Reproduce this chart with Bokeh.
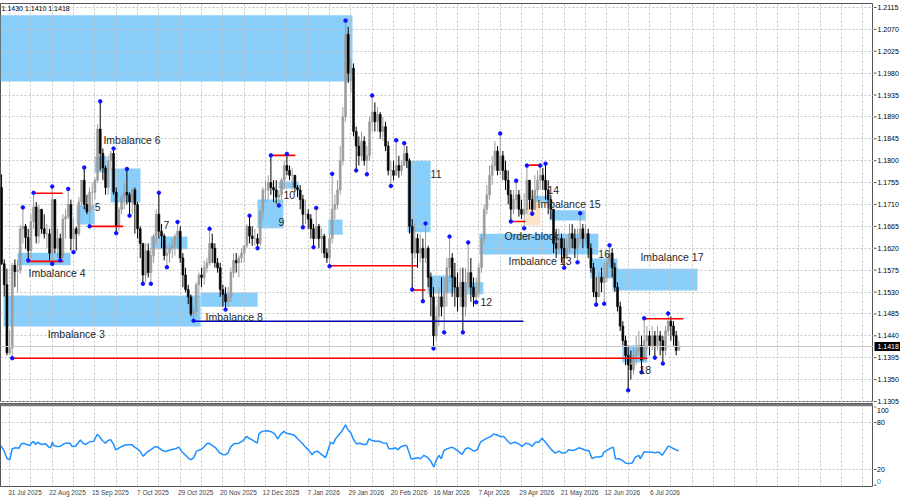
import numpy as np
import pandas as pd
from bokeh.plotting import figure
from bokeh.layouts import column, row
from bokeh.models import Range1d, FixedTicker, ColumnDataSource, Span
from bokeh.embed import file_html
from bokeh.resources import INLINE
from bokeh.core.properties import value

# ---------------- data (prices x 1e4), bars from 28 Jul 2025 ----------------
FIRST_BAR = -3          # bar index of first candle (31 Jul 2025 = bar 0)
FIRST_OPEN = 11745
highs = [
11772,11597,11578,11450,11590,11597,11596,11668,11704,11670,
11660,11690,11734,11715,11710,11700,11690,11670,11660,11747,
11720,11660,11650,11690,11700,11742,11720,11680,11665,11725,
11760,11786,11730,11745,11755,11765,11875,11922,11825,11790,
11810,11820,11825,11745,11705,11730,11755,11783,11735,11745,
11745,11715,11665,11630,11630,11630,11620,11650,11700,11734,
11670,11650,11625,11630,11640,11650,11674,11665,11610,11580,
11545,11525,11500,11550,11570,11580,11595,11600,11660,11650,
11630,11600,11590,11545,11540,11540,11580,11610,11610,11605,
11620,11625,11670,11687,11665,11660,11650,11700,11745,11760,
11770,11811,11760,11760,11740,11765,11800,11814,11790,11785,
11770,11750,11750,11730,11720,11700,11690,11670,11703,11670,
11660,11650,11620,11650,11773,11730,11760,11830,11910,12088,
12075,12010,12000,11870,11850,11860,11850,11830,11890,11934,
11920,11910,11900,11890,11880,11840,11800,11800,11842,11810,
11800,11836,11830,11805,11680,11670,11650,11650,11640,11671,
11625,11570,11540,11500,11540,11560,11560,11600,11644,11610,
11590,11570,11580,11580,11580,11632,11600,11560,11560,11590,
11650,11710,11750,11790,11810,11840,11830,11856,11820,11800,
11780,11740,11740,11759,11740,11720,11733,11790,11760,11740,
11770,11780,11790,11785,11794,11760,11730,11700,11660,11660,
11650,11640,11640,11670,11670,11660,11660,11692,11670,11670,
11660,11630,11590,11560,11570,11580,11590,11610,11626,11620,
11590,11550,11510,11470,11440,11420,11410,11420,11440,11450,
11440,11476,11460,11450,11460,11450,11460,11450,11440,11460,
11486,11480,11470,11450,11430]
lows = [
11586,11521,11400,11400,11394,11540,11530,11567,11630,11619,
11595,11600,11660,11630,11630,11650,11640,11620,11595,11588,
11610,11600,11595,11600,11640,11680,11615,11612,11615,11645,
11705,11700,11690,11665,11700,11720,11755,11780,11760,11730,
11730,11780,11730,11651,11655,11690,11700,11710,11687,11690,
11650,11640,11600,11547,11550,11560,11547,11590,11630,11640,
11620,11595,11581,11590,11600,11605,11620,11590,11540,11530,
11505,11480,11471,11480,11520,11540,11545,11570,11585,11590,
11580,11570,11520,11500,11494,11500,11510,11560,11570,11560,
11590,11590,11620,11630,11625,11625,11620,11625,11680,11715,
11720,11730,11715,11712,11708,11720,11740,11770,11760,11740,
11735,11725,11700,11663,11670,11660,11640,11622,11640,11620,
11610,11600,11590,11583,11630,11680,11700,11730,11790,11880,
11960,11940,11850,11780,11790,11800,11790,11772,11800,11860,
11860,11860,11845,11840,11820,11770,11748,11760,11770,11765,
11770,11790,11785,11650,11535,11600,11580,11590,11511,11590,
11540,11480,11414,11430,11460,11480,11447,11500,11550,11520,
11500,11490,11500,11447,11480,11540,11510,11500,11509,11520,
11570,11630,11690,11720,11750,11780,11770,11770,11760,11740,
11710,11675,11690,11700,11685,11680,11661,11690,11700,11691,
11700,11720,11740,11740,11720,11690,11680,11610,11600,11610,
11590,11580,11600,11610,11620,11600,11591,11630,11620,11625,
11600,11570,11520,11504,11520,11530,11506,11550,11580,11560,
11530,11490,11450,11420,11380,11328,11350,11360,11380,11400,
11365,11390,11410,11400,11410,11395,11410,11400,11383,11400,
11440,11430,11420,11400,11410]
closes = [
11588,11545,11405,11415,11585,11572,11575,11660,11665,11642,
11615,11675,11705,11645,11700,11660,11650,11650,11610,11720,
11620,11640,11600,11680,11685,11710,11640,11660,11650,11715,
11760,11710,11695,11735,11735,11760,11865,11815,11785,11745,
11800,11815,11735,11665,11700,11725,11735,11730,11715,11740,
11710,11660,11630,11565,11615,11570,11605,11645,11690,11655,
11645,11605,11610,11620,11625,11645,11655,11600,11565,11535,
11520,11485,11490,11545,11565,11560,11580,11590,11630,11620,
11590,11580,11535,11525,11510,11520,11570,11595,11590,11600,
11610,11625,11665,11645,11640,11640,11630,11695,11740,11740,
11755,11745,11740,11725,11730,11760,11790,11780,11770,11770,
11745,11740,11720,11690,11690,11680,11660,11640,11665,11640,
11645,11610,11600,11640,11700,11710,11740,11800,11890,12060,
11980,11990,11860,11830,11810,11840,11800,11810,11880,11900,
11880,11895,11860,11870,11830,11780,11780,11770,11790,11780,
11790,11815,11800,11665,11610,11640,11610,11620,11600,11620,
11560,11520,11440,11480,11520,11500,11530,11580,11600,11560,
11540,11520,11550,11500,11550,11570,11540,11520,11530,11580,
11640,11700,11730,11770,11790,11820,11780,11810,11780,11760,
11730,11700,11720,11730,11700,11690,11700,11760,11720,11700,
11740,11760,11770,11760,11740,11720,11700,11630,11620,11640,
11620,11600,11620,11650,11640,11620,11640,11660,11640,11650,
11620,11580,11530,11520,11560,11550,11560,11590,11610,11580,
11540,11500,11460,11430,11400,11380,11370,11400,11410,11420,
11390,11430,11440,11420,11440,11420,11440,11430,11410,11450,
11470,11460,11440,11410,11418]

# fractal markers (bar indices of swing highs / lows)
frac_high_bars = [5, 9, 16, 22, 28, 34, 39, 44, 56, 63, 75, 90, 98, 104, 115, 121, 126, 136,
                  145, 148, 156, 165, 172, 184, 190, 194, 199, 201, 214, 225, 238, 247]
frac_low_bars = [1, 7, 16, 19, 24, 30, 40, 45, 50, 53, 59, 69, 81, 93, 101, 110, 114, 120, 130,
                 134, 143, 151, 155, 159, 163, 170, 175, 188, 193, 196, 208, 213, 220, 223,
                 232, 237, 242, 245]

# imbalance zones (bar from, bar to, price low, price high)
zone_from = [-3.4, -2.25, 3.0, 25.1, 31.9, 37.9, 52.9, 71.6, 93.0, 100.9, 119.6, 149.2,
             156.7, 169.9, 176.2, 196.1, 202.5, 217.8, 226.1, 229.8]
zone_to = [128.6, 71.6, 22.9, 31.9, 36.4, 49.1, 66.7, 93.0, 102.7, 108.4, 124.9, 157.9,
           167.2, 177.7, 220.8, 202.1, 216.0, 228.0, 258.0, 239.2]
zone_low = [1.1963, 1.1459, 1.1585, 1.1669, 1.1776, 1.1714, 1.1618, 1.1500, 1.1661, 1.1743,
            1.1648, 1.1653, 1.1527, 1.1525, 1.1607, 1.1714, 1.1677, 1.1558, 1.1533, 1.1385]
zone_high = [1.2099, 1.1523, 1.1611, 1.1708, 1.1809, 1.1784, 1.1644, 1.1529, 1.1720, 1.1757,
             1.1679, 1.1800, 1.1564, 1.1550, 1.1650, 1.1728, 1.1698, 1.1599, 1.1578, 1.1420]
ob_from, ob_to, ob_low, ob_high = [193.5], [199.1], [1.1667], [1.1714]

# horizontal levels
lvl_from = [1, 9, 7, 30, 69, 98, 120, 151, 188, 194, 238]
lvl_to = [239.2, 19.9, 20.2, 42.7, 192.7, 107.2, 153, 156, 193.5, 199.1, 252.7]
lvl_price = [1.1394, 1.1733, 1.1593, 1.1665, 1.1470, 1.1811, 1.1584, 1.1534, 1.1675, 1.1791, 1.1475]
lvl_kind = ["r", "r", "r", "r", "b", "r", "r", "r", "r", "r", "r"]

# annotations
lab_text = ["Imbalance 3", "Imbalance 4", "5", "Imbalance 6", "7", "Imbalance 8", "9", "10",
            "11", "12", "Order-block", "Imbalance 13", "14", "Imbalance 15", "16",
            "Imbalance 17", "18"]
lab_bar = [14.3, 7.1, 31.9, 35.2, 57.7, 73.5, 100.9, 102.7, 157.9, 176.6, 185.6, 187.1,
           201.7, 198.0, 220.8, 236.6, 236.2]
lab_price = [1.1443, 1.1570, 1.1704, 1.1842, 1.1667, 1.1478, 1.1673, 1.1729, 1.1772, 1.1509,
             1.1646, 1.1593, 1.1739, 1.1710, 1.1609, 1.1603, 1.1369]

# RSI line (bar, value)
rsi_bar = [-3.4,-2.1,-0.9,0.1,1.0,2.25,3.5,4.4,5.4,6.6,7.6,8.5,9.1,9.75,10.6,11.4,12.25,13.5,14.75,15.4,
16.0,16.6,17.9,19.1,20.4,21.6,22.6,23.5,24.75,25.6,26.6,27.6,28.5,29.4,30.4,31.6,32.9,33.9,34.75,36.0,
36.9,37.9,38.9,39.75,40.6,41.6,42.9,44.1,46.0,46.9,47.9,48.9,50.1,51.0,51.6,52.9,54.75,56.0,57.25,58.5,
60.4,62.25,63.5,64.75,66.0,67.25,68.1,69.1,70.1,71.6,72.9,73.9,74.75,76.0,77.25,78.5,79.75,81.0,81.9,82.9,
84.1,86.0,87.6,88.9,89.75,91.0,92.9,93.5,94.75,96.6,98.1,99.4,100.6,101.6,102.9,103.9,105.1,106.4,107.25,108.5,
109.75,111.0,112.25,113.5,114.4,115.4,116.6,117.9,118.5,119.4,120.4,121.4,122.25,123.5,124.75,126.0,126.9,127.9,128.9,130.1,
131.4,132.6,133.9,134.75,136.0,137.25,138.5,140.1,141.4,142.25,143.5,144.75,145.6,146.6,147.9,148.9,149.75,150.6,151.6,152.9,
154.1,155.4,156.6,157.9,159.1,160.1,161.0,161.9,
162.9,164.1,166.0,167.9,169.7,171.0,172.2,174.1,175.4,176.6,178.5,180.4,181.6,182.9,184.1,185.4,186.6,187.9,189.4,191.0,
192.2,193.5,194.7,196.0,197.2,198.5,199.7,201.0,202.2,203.5,204.7,206.0,207.2,208.5,209.7,211.0,212.2,213.5,214.7,216.0,
217.2,218.5,219.7,221.0,222.2,222.9,224.1,225.4,226.4,227.2,228.5,229.7,231.0,232.2,233.5,234.7,236.0,236.6,237.9,239.1,
240.4,242.2,243.5,244.7,246.0,247.0,247.9,249.1,250.4,251.0]
rsi_val = [50.7,44.4,33.8,32.6,46.5,47.7,47.3,52.8,53.6,51.5,50.7,54.9,55.7,51.9,54.9,52.8,51.9,52.8,48.6,47.7,
54.9,50.7,49.4,49.8,52.8,54.0,53.6,49.4,49.8,53.6,57.8,53.6,51.9,54.0,55.7,56.1,65.0,61.2,57.0,53.6,
57.0,58.2,52.8,45.2,46.5,48.6,50.7,51.5,51.5,48.6,46.5,43.5,36.8,40.2,42.3,45.2,49.4,47.7,44.4,43.1,
45.2,46.5,48.6,42.3,38.1,33.8,32.6,35.1,43.5,45.2,48.6,52.8,53.6,50.7,47.7,42.3,39.3,38.9,41.0,48.6,
52.8,53.6,57.0,62.4,59.9,57.8,53.6,65.4,68.7,69.6,68.3,65.4,59.1,64.5,68.7,66.2,65.4,64.5,62.0,57.8,
53.6,48.6,44.4,38.9,42.3,43.5,40.2,36.8,35.1,44.4,54.9,52.8,59.1,64.5,69.6,77.1,70.4,67.5,59.1,52.8,
53.6,51.9,51.9,59.1,57.0,56.1,56.1,54.0,53.6,46.5,46.5,47.7,45.2,48.6,50.7,50.7,42.3,33.8,33.8,35.1,
33.8,38.1,35.9,30.9,23.3,32.6,38.1,33.8,
44.4,46.5,48.6,44.4,39.3,46.5,47.7,43.5,45.2,54.9,59.1,62.0,65.4,64.1,62.0,62.0,57.0,52.8,54.9,52.8,
49.4,53.6,52.8,49.8,54.9,54.9,59.9,54.9,49.4,44.4,41.0,43.5,41.0,41.4,45.2,44.4,45.2,47.7,46.5,44.4,
44.4,33.8,35.9,35.9,36.8,42.3,44.4,47.3,48.6,33.8,33.8,31.7,28.4,27.5,28.4,35.9,38.1,33.8,42.3,42.3,
42.3,41.4,42.3,38.1,44.4,49.8,48.6,46.5,44.4,44.4]

date_labels = ["31 Jul 2025", "22 Aug 2025", "15 Sep 2025", "7 Oct 2025", "29 Oct 2025",
               "20 Nov 2025", "12 Dec 2025", "7 Jan 2026", "29 Jan 2026", "20 Feb 2026",
               "16 Mar 2026", "7 Apr 2026", "29 Apr 2026", "21 May 2026", "12 Jun 2026",
               "6 Jul 2026"]
price_ticks = [1.1305, 1.1350, 1.1395, 1.1440, 1.1485, 1.1530, 1.1575, 1.1620, 1.1665, 1.1710,
               1.1755, 1.1800, 1.1845, 1.1890, 1.1935, 1.1980, 1.2025, 1.2070, 1.2115]
rsi_ticks = [0, 20, 80, 100]
rsi_levels = [20, 80]
ohlc_text = "1.1430 1.1410 1.1418"
last_price = 1.1418

# ---------------- derived ----------------
n = len(closes)
bars = np.arange(n) + FIRST_BAR
C = np.array(closes) / 1e4
H = np.array(highs) / 1e4
L = np.array(lows) / 1e4
O = np.concatenate([[FIRST_OPEN], closes[:-1]]) / 1e4
up = C >= O
colors = np.where(up, "#9c9c9c", "#000000")
src = ColumnDataSource(dict(x=bars, h=H, l=L, top=np.maximum(O, C), bot=np.minimum(O, C), c=colors))

cal = pd.bdate_range("2025-07-28", periods=n + 120, freq="C",
                     holidays=["2025-12-25", "2026-01-01"])
cal_index = {d.strftime("%Y-%m-%d"): k + FIRST_BAR for k, d in enumerate(cal)}
label_bars = [cal_index[pd.Timestamp(s).strftime("%Y-%m-%d")] for s in date_labels]
grid_x = list(range(0, 330, 8))

FONT = "Liberation Sans"
GRID_C = "#c4c4c4"
FW = 873      # plot frame width
AW = 27       # price-scale strip width
MAIN_H = 402
RSI_H = 96
TOP = 3
RSI_TOP = 1
BOTTOM = 12
STRIP_SPLIT = 406   # where the price strip hands over to the RSI strip


def strip(height, y_range, top, bottom):
    s = figure(width=AW, height=height, x_range=Range1d(0, AW), y_range=y_range,
               output_backend="svg", toolbar_location=None, x_axis_location=None,
               y_axis_location=None, min_border_left=0, min_border_right=0,
               min_border_top=top, min_border_bottom=bottom, outline_line_color=None,
               background_fill_color="white", border_fill_color="white")
    s.grid.visible = False
    return s


# ---------------- main price panel ----------------
x_range = Range1d(-3.4, 324)
P0, P1 = 1.13029, 1.21232
price_range = Range1d(P0, P1)
p = figure(width=FW, height=MAIN_H, x_range=x_range, y_range=price_range,
           output_backend="svg", toolbar_location=None, y_axis_location=None,
           x_axis_location=None, min_border_left=0, min_border_right=0,
           min_border_top=TOP, min_border_bottom=0, outline_line_color="#555555",
           background_fill_color="white", border_fill_color="white")
p.ygrid.ticker = FixedTicker(ticks=price_ticks)
p.xgrid.ticker = FixedTicker(ticks=grid_x)
for g in (p.xgrid, p.ygrid):
    g.grid_line_color = GRID_C
    g.grid_line_dash = "2 2"

zr = p.quad(left=zone_from, right=zone_to, bottom=zone_low, top=zone_high,
            fill_color="#87cefa", line_color=None)
zr.level = "image"
obr = p.quad(left=ob_from, right=ob_to, bottom=ob_low, top=ob_high,
             fill_color="#fbe3c9", line_color=None)
obr.level = "image"

p.add_layout(Span(location=last_price, dimension="width", line_color="#c8c8c8", line_width=1))

p.segment(x0="x", y0="l", x1="x", y1="h", line_color="c", line_width=1, source=src)
p.vbar(x="x", width=0.72, top="top", bottom="bot", fill_color="c", line_color="c",
       line_width=0.6, source=src)

lcol = ["#ff0000" if k == "r" else "#0000b4" for k in lvl_kind]
p.segment(x0=lvl_from, x1=lvl_to, y0=lvl_price, y1=lvl_price, line_color=lcol, line_width=1.6)

hb = np.array(frac_high_bars)
lb = np.array(frac_low_bars)
p.scatter(x=np.concatenate([hb, lb]),
          y=np.concatenate([H[hb - FIRST_BAR], L[lb - FIRST_BAR]]),
          size=3.5, marker="circle", color="#1010ff")

p.text(x=lab_bar, y=lab_price, text=lab_text, text_font=value(FONT), text_font_size="10.5px",
       text_color="#262626", text_baseline="middle", text_align="left")
p.text(x=[-3.0], y=[1.2113], text=[ohlc_text], text_font=value(FONT), text_font_size="7px",
       text_color="#000000", text_baseline="middle", text_align="left")

# price scale strip: same price-per-pixel as the main frame, a little taller so no label is cut
ppx = (P1 - P0) / (MAIN_H - TOP)
strip_range = Range1d(P0 - (STRIP_SPLIT - MAIN_H) * ppx, P1 + TOP * ppx)
pa = strip(STRIP_SPLIT, strip_range, 0, 0)
pa.segment(x0=[0] * len(price_ticks), x1=[3] * len(price_ticks), y0=price_ticks, y1=price_ticks,
           line_color="#555555", line_width=1)
pa.text(x=[4] * len(price_ticks), y=price_ticks, text=[f"{t:.4f}" for t in price_ticks],
        text_font=value(FONT), text_font_size="7px", text_color="#000000",
        text_baseline="middle", text_align="left")
pa.rect(x=[AW / 2 + 0.5], y=[last_price], width=AW - 1, height=9, height_units="screen",
        fill_color="#000000", line_color=None)
pa.text(x=[4], y=[last_price], text=[f"{last_price:.4f}"], text_font=value(FONT),
        text_font_size="7px", text_color="#ffffff", text_baseline="middle", text_align="left")

# ---------------- RSI panel ----------------
R0, R1 = -1.7, 104.3
rsi_range = Range1d(R0, R1)
r = figure(width=FW, height=RSI_H, x_range=x_range, y_range=rsi_range,
           output_backend="svg", toolbar_location=None, y_axis_location=None,
           min_border_left=0, min_border_right=0, min_border_top=RSI_TOP,
           min_border_bottom=BOTTOM, outline_line_color="#555555",
           background_fill_color="white", border_fill_color="white")
off = 5.8
r.xaxis.ticker = FixedTicker(ticks=[b + off for b in label_bars])
r.xaxis.major_label_overrides = {float(b + off): s for b, s in zip(label_bars, date_labels)}
r.xaxis.major_label_text_font = FONT
r.xaxis.major_label_text_font_size = "6.5px"
r.xaxis.major_label_standoff = 2
r.xaxis.major_tick_out = 0
r.xaxis.major_tick_in = 0
r.xaxis.major_tick_line_color = None
r.xaxis.minor_tick_line_color = None
r.xaxis.axis_line_color = None
r.xgrid.ticker = FixedTicker(ticks=grid_x)
r.ygrid.ticker = FixedTicker(ticks=rsi_levels)
for g in (r.xgrid, r.ygrid):
    g.grid_line_color = GRID_C
    g.grid_line_dash = "2 2"
r.add_layout(Span(location=102.3, dimension="width", line_color="#7a7a7a", line_width=2.5))

m = min(len(rsi_bar), len(rsi_val))
r.line(rsi_bar[:m], rsi_val[:m], line_color="#1e90ff", line_width=1.5)

rpx = (R1 - R0) / (RSI_H - RSI_TOP - BOTTOM)
ra_top_gap = STRIP_SPLIT - (MAIN_H + RSI_TOP)
ra = strip(RSI_H + MAIN_H - STRIP_SPLIT, Range1d(R0, R1 - ra_top_gap * rpx), 0, BOTTOM)
ra.segment(x0=[0] * len(rsi_ticks), x1=[3] * len(rsi_ticks), y0=rsi_ticks, y1=rsi_ticks,
           line_color="#555555", line_width=1)
ra.text(x=[3.5] * len(rsi_ticks), y=rsi_ticks, text=[str(t) for t in rsi_ticks],
        y_offset=[-4, 0, 0, 4], text_font=value(FONT), text_font_size="7px",
        text_color=["#2f6fd0", "#000000", "#000000", "#000000"],
        text_baseline="middle", text_align="left")

layout = row(column(p, r), column(pa, ra))
open("out.html", "w").write(file_html(layout, INLINE))
